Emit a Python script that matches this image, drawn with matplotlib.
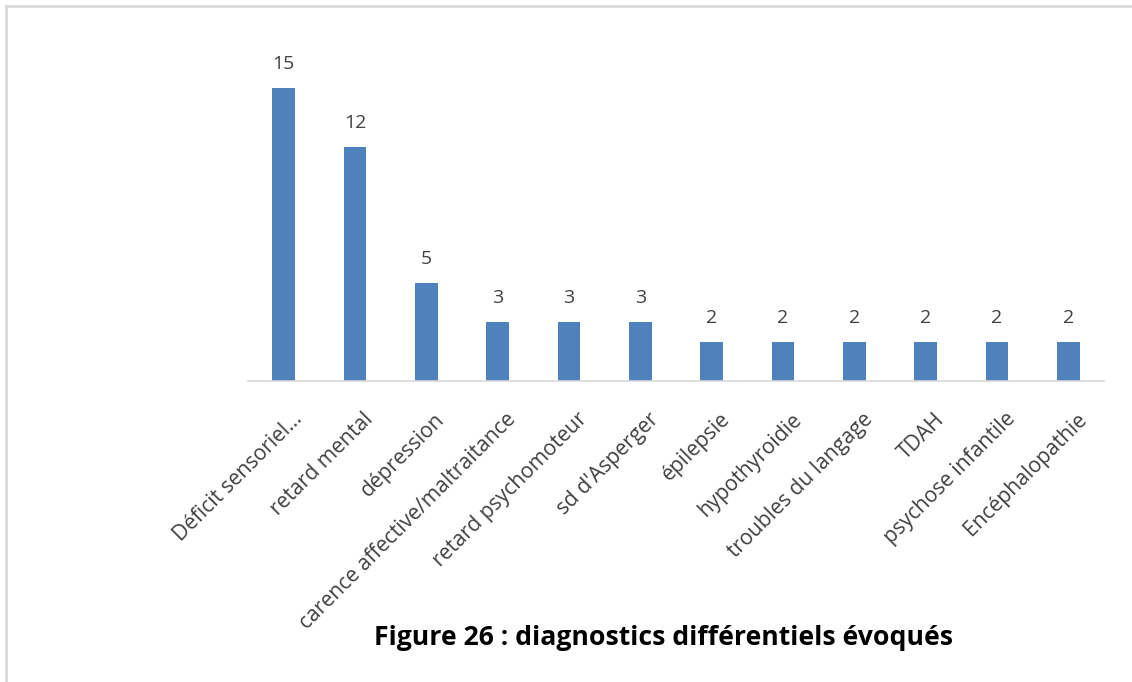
import numpy as np
import matplotlib
matplotlib.use("Agg")
import matplotlib.pyplot as plt
import matplotlib.transforms as mtransforms
from matplotlib.lines import Line2D

# Données
categories = ["Déficit sensoriel…", "retard mental", "dépression",
              "carence affective/maltraitance", "retard psychomoteur",
              "sd d'Asperger", "épilepsie", "hypothyroidie",
              "troubles du langage", "TDAH", "psychose infantile",
              "Encéphalopathie"]
valeurs = [15, 12, 5, 3, 3, 3, 2, 2, 2, 2, 2, 2]
titre = "Figure 26 : diagnostics différentiels évoqués"

plt.rcParams['font.family'] = ['Open Sans', 'DejaVu Sans']

fig = plt.figure(figsize=(11.32, 6.82), dpi=100)
ax = fig.add_axes([248/1132, 1 - 381/682, 856/1132, 312/682])

x = np.arange(len(categories))
ax.bar(x, valeurs, width=0.32, color='#4F81BD')

# étiquettes de valeurs
for xi, v in zip(x, valeurs):
    ax.text(xi, v + 1.25, str(v), ha='center', va='center',
            fontsize=14, color='#404040')

ax.set_xlim(-0.5, len(categories) - 0.5)
ax.set_ylim(0, 16)
ax.set_yticks([])
ax.set_xticks(x)
ax.set_xticklabels(categories, rotation=45, ha='right', rotation_mode='anchor',
                   fontsize=15.2, color='#404040')
ax.tick_params(axis='x', length=0, pad=20)
decalage = mtransforms.ScaledTranslation(8/100, 0, fig.dpi_scale_trans)
for lab in ax.get_xticklabels():
    lab.set_transform(lab.get_transform() + decalage)

for s in ['top', 'right', 'left']:
    ax.spines[s].set_visible(False)
ax.spines['bottom'].set_color('#D9D9D9')
ax.spines['bottom'].set_linewidth(1.2)

fig.text(664/1132, 1 - 638/682, titre, ha='center', va='center',
         fontsize=19.2, fontweight='bold', color='black')

# cadre gris à gauche et en haut
fig.add_artist(Line2D([6/1132, 6/1132], [0, 1 - 6/682], color='#D9D9D9', lw=2,
                      transform=fig.transFigure))
fig.add_artist(Line2D([6/1132, 1], [1 - 6/682, 1 - 6/682], color='#D9D9D9', lw=2,
                      transform=fig.transFigure))

fig.savefig("out.png", dpi=100)
